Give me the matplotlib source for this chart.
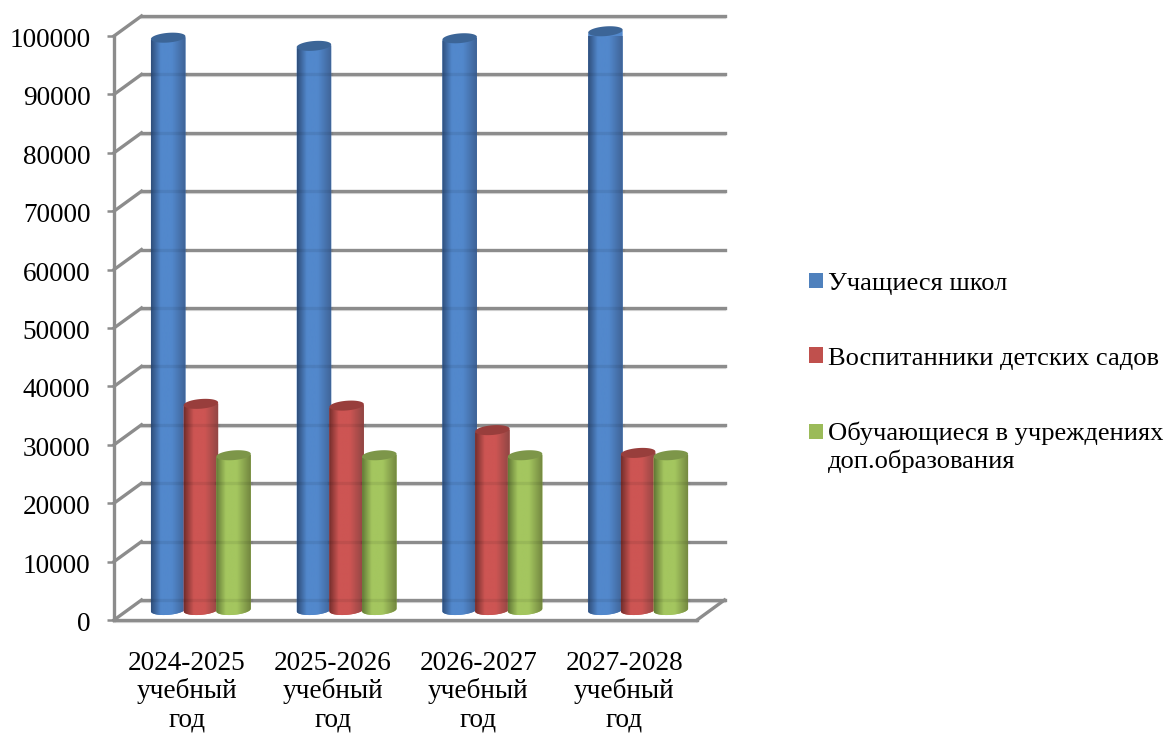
import numpy as np
import matplotlib
matplotlib.use('Agg')
import matplotlib.pyplot as plt
from matplotlib.colors import LinearSegmentedColormap
from matplotlib.patches import Patch
from matplotlib.transforms import Affine2D

years = ["2024-2025\nучебный\nгод", "2025-2026\nучебный\nгод",
         "2026-2027\nучебный\nгод", "2027-2028\nучебный\nгод"]
schools = [98000, 96600, 97900, 99100]
kindergartens = [35300, 35000, 30800, 26900]
additional = [26500, 26500, 26500, 26500]
y_ticks = list(range(0, 100001, 10000))
series_names = ["Учащиеся школ", "Воспитанники детских садов",
                "Обучающиеся в учреждениях\nдоп.образования"]

# (тёмный край, середина, правый край, верх цилиндра, легенда)
blue = ("#2f4f7c", "#5288cc", "#3f6396", "#3c6597", "#4f81bd")
red = ("#752e2c", "#cd5553", "#8f4644", "#983e3c", "#c0504d")
green = ("#647a37", "#a4c65f", "#72863f", "#7d9649", "#9bbb59")

W, H = 1166, 733
FONT = 19.6
GRAY = "#8c8c8c"
SHADOW = "#dcdcdc"

plt.rcParams['font.family'] = ['Liberation Serif', 'DejaVu Serif']

fig = plt.figure(figsize=(W / 100, H / 100), dpi=100)
ax = fig.add_axes([114 / W, (H - 620) / H, 583 / W, 584 / H])
ax.set_xlim(-0.5, 3.5)
ax.set_ylim(0, 100000)

# смещения по глубине 3D-сцены (в пикселях)
back = ax.transData + Affine2D().translate(27.5, 20)
middle = ax.transData + Affine2D().translate(14, 10)

# стены и пол
for v in y_ticks:
    ax.plot([-0.5, 3.5], [v - 300, v - 300], color=SHADOW, lw=1.6, transform=back, zorder=1, clip_on=False)
    ax.plot([-0.5, 3.5], [v, v], color=GRAY, lw=2.4, transform=back, zorder=2, clip_on=False)
    # боковая стена
    ax.plot([-0.5, -0.5 + 27.5 / 145.75], [v, v + 20 / 5.84 * 1000], color=GRAY, lw=2.4, zorder=2, clip_on=False)

ax.plot([3.5, 3.5 + 27.5 / 145.75], [0, 20 / 5.84 * 1000], color=GRAY, lw=2.4, zorder=2, clip_on=False)
ax.plot([-0.5, 3.5], [-300, -300], color=SHADOW, lw=1.6, zorder=1, clip_on=False)


def cylinder(cx, value, width, colors, z):
    rx = width / 2
    ry = 830
    tilt = 230
    t = np.linspace(np.pi, 2 * np.pi, 40)
    xs = cx + rx * np.cos(t)
    ys = ry * np.sin(t) + tilt * np.cos(t)
    # контур тела: нижняя дуга и верхний край (чуть ниже верхнего эллипса)
    px = np.concatenate([xs, [cx + rx, cx - rx]])
    py = np.concatenate([ys, [value + tilt - 150, value - tilt - 150]])
    body = ax.fill(px, py, color=colors[1], transform=middle, zorder=z, clip_on=False, lw=0)[0]

    cmap = LinearSegmentedColormap.from_list("c", [(0, colors[0]), (0.28, colors[1]), (0.6, colors[1]), (1, colors[2])])
    grad = np.linspace(0, 1, 80).reshape(1, -1)
    im = ax.imshow(grad, cmap=cmap, extent=[cx - rx, cx + rx, -ry - tilt, value + tilt],
                   aspect='auto', transform=middle, zorder=z + 0.1, interpolation='bilinear')
    im.set_clip_path(body)

    # сетка слегка просвечивает сквозь цилиндр
    for v in y_ticks:
        if v + 1700 < value:
            ax.plot([cx - rx, cx + rx], [v + 1700, v + 1700], color="black", alpha=0.07, lw=2.4,
                    transform=middle, zorder=z + 0.2, clip_on=False)

    t = np.linspace(0, 2 * np.pi, 80)
    ax.fill(cx + rx * np.cos(t), value + ry * np.sin(t) + tilt * np.cos(t), color=colors[3],
            transform=middle, zorder=z + 0.3, clip_on=False, lw=0)


bar_step = 32.7 / 145.75
bar_width = 34.5 / 145.75
x = np.arange(len(years))
for i in range(len(years)):
    cylinder(x[i] - bar_step, schools[i], bar_width, blue, 3)
    cylinder(x[i], kindergartens[i], bar_width, red, 4)
    cylinder(x[i] + bar_step, additional[i], bar_width, green, 5)

ax.set_xlim(-0.5, 3.5)
ax.set_ylim(0, 100000)

for side in ['top', 'right']:
    ax.spines[side].set_visible(False)
for side in ['left', 'bottom']:
    ax.spines[side].set_color(GRAY)
    ax.spines[side].set_linewidth(2.4)
    ax.spines[side].set_zorder(2)

ax.set_yticks(y_ticks)
ax.set_yticklabels([str(v) for v in y_ticks], fontsize=FONT)
ax.set_xticks(x)
ax.set_xticklabels(years, fontsize=FONT, linespacing=1.14)
ax.tick_params(axis='y', length=5, width=1.8, color=GRAY, pad=12)
ax.tick_params(axis='x', length=0, pad=22)
for label in ax.get_yticklabels():
    label.set_transform(label.get_transform() + Affine2D().translate(0, -1.5))

handles = [Patch(facecolor=c[4], lw=0) for c in (blue, red, green)]
leg = fig.legend(handles, series_names, loc='upper left', bbox_to_anchor=(809 / W, 1 - 273 / H),
                 bbox_transform=fig.transFigure, frameon=False, fontsize=FONT - 0.55,
                 handlelength=0.52, handleheight=0.52, handletextpad=0.2,
                 labelspacing=1.98, borderaxespad=0, borderpad=0)
# квадрат третьей подписи стоит на уровне первой строки
third = leg.legend_handles[2]
third.set_y(third.get_y() + 11)
leg.get_texts()[2].set_linespacing(1.22)

fig.savefig('out.png', dpi=100)
